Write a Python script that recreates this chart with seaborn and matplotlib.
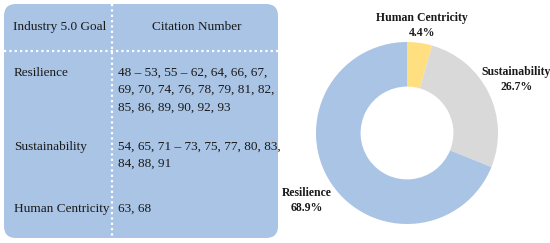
import numpy as np
import matplotlib
matplotlib.use("Agg")
import matplotlib.pyplot as plt
import seaborn as sns
from matplotlib.patches import FancyBboxPatch

# data
goals = ["Resilience", "Sustainability", "Human Centricity"]
citations = [
    "48 \u2013 53, 55 \u2013 62, 64, 66, 67,\n69, 70, 74, 76, 78, 79, 81, 82,\n85, 86, 89, 90, 92, 93",
    "54, 65, 71 \u2013 73, 75, 77, 80, 83,\n84, 88, 91",
    "63, 68",
]
counts = [31, 12, 2]
header = ["Industry 5.0 Goal", "Citation Number"]

# colours
pie_colors = {"Resilience": "#a9c4e4", "Sustainability": "#d9d9d9", "Human Centricity": "#ffdf80"}
box_color = "#a9c4e4"

sns.set_theme(style="white")
plt.rcParams["font.family"] = ["Liberation Serif", "DejaVu Serif"]

fig = plt.figure(figsize=(5.5, 2.43), dpi=100)

# --- table on the left, pixel coordinates ---
ax_t = fig.add_axes([0, 0, 1, 1])
ax_t.set_xlim(0, 550)
ax_t.set_ylim(243, 0)
ax_t.axis("off")

box = FancyBboxPatch((16, 16), 250, 210, boxstyle="round,pad=12",
                     facecolor=box_color, edgecolor="none")
ax_t.add_patch(box)
ax_t.plot([112, 112], [4, 238], color="white", lw=1.6, ls=(0, (1, 1.4)))
ax_t.plot([4, 278], [51, 51], color="white", lw=1.6, ls=(0, (1, 1.4)))

fs = 9.5
ax_t.text(13, 27, header[0], fontsize=fs, va="center", ha="left", color="#1a1a1a")
ax_t.text(197, 27, header[1], fontsize=fs, va="center", ha="center", color="#1a1a1a")

row_y = [73, 147, 209]
for g, c, y in zip(goals, citations, row_y):
    ax_t.text(14, y, g, fontsize=fs, va="center", ha="left", color="#1a1a1a")
    ax_t.text(118, y - 6, c, fontsize=fs, va="top", ha="left", color="#1a1a1a",
              linespacing=1.58)

# --- donut on the right ---
R = 91
cx, cy = 407, 133
ax_p = fig.add_axes([(cx - R) / 550, (243 - cy - R) / 243, 2 * R / 550, 2 * R / 243])
order = ["Human Centricity", "Sustainability", "Resilience"]
vals = [counts[goals.index(o)] for o in order]
wedges, _ = ax_p.pie(vals, colors=[pie_colors[o] for o in order], startangle=90,
                     counterclock=False, radius=1,
                     wedgeprops=dict(width=0.49, edgecolor="none"))
ax_p.set_xlim(-1, 1)
ax_p.set_ylim(-1, 1)
ax_p.set_aspect("equal")

total = sum(vals)
label_r = {"Human Centricity": 1.19, "Sustainability": 1.34, "Resilience": 1.33}
for w, o, v in zip(wedges, order, vals):
    ang = np.deg2rad((w.theta1 + w.theta2) / 2)
    r = label_r[o]
    ax_p.text(r * np.cos(ang), r * np.sin(ang), f"{o}\n{100 * v / total:.1f}%",
              ha="center", va="center", fontsize=8.5, fontweight="bold",
              color="#1a1a1a", clip_on=False, linespacing=1.3)

fig.savefig("out.png", dpi=100)
